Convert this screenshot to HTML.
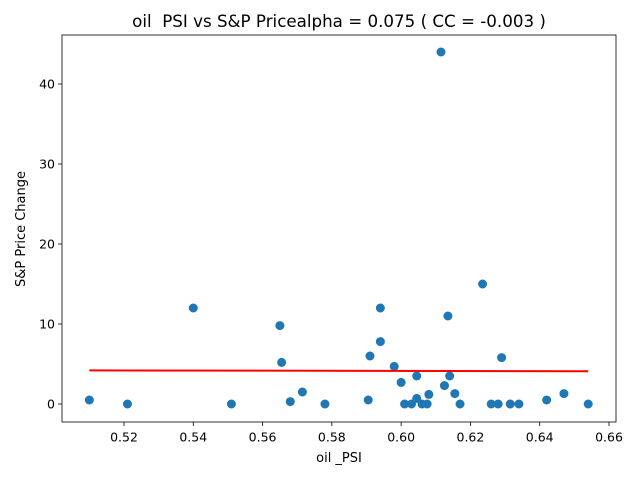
<!DOCTYPE html>
<html><head><meta charset="utf-8"><style>
body{margin:0;background:#fff;font-family:"Liberation Sans",sans-serif}
svg text{font-family:"DejaVu Sans","Liberation Sans",sans-serif;white-space:pre}
</style></head><body>
<svg id="c" width="640" height="480"></svg>
<script>
const xs=[0.510,0.521,0.540,0.551,0.565,0.5655,0.568,0.5715,0.578,0.5905,0.591,0.594,0.594,0.598,0.600,0.601,0.603,0.6045,0.6045,0.606,0.6075,0.608,0.6115,0.6125,0.6135,0.614,0.6155,0.617,0.6235,0.626,0.628,0.629,0.6315,0.634,0.642,0.647,0.654];
const ys=[0.5,0,12,0,9.8,5.2,0.3,1.5,0,0.5,6,12,7.8,4.7,2.7,0,0,3.5,0.7,0,0,1.2,44,2.3,11,3.5,1.3,0,15,0,0,5.8,0,0,0.5,1.3,0];
const xTicks=[0.52,0.54,0.56,0.58,0.60,0.62,0.64,0.66];
const yTicks=[0,10,20,30,40];
const fitX=[0.510,0.654];
const fitY=[4.2,4.1];
const NS="http://www.w3.org/2000/svg",svg=document.getElementById('c');
const L=62,R=616,T=35,B=422;
const X=v=>124+(v-0.52)*(485/0.14);
const Y=v=>404-v*8;
function mk(t,a,p){const e=document.createElementNS(NS,t);for(const k in a)e.setAttribute(k,a[k]);(p||svg).appendChild(e);return e;}
let f=mk('rect',{x:L,y:T,width:R-L,height:B-T,fill:'none',stroke:'#000','stroke-width':0.8});


xTicks.forEach(t=>{const x=X(t);mk('line',{x1:x,x2:x,y1:B,y2:B+4,stroke:'#000','stroke-width':0.8});
const tx=mk('text',{x:x,y:B+19.5,'text-anchor':'middle','font-size':12.5});tx.textContent=t.toFixed(2);

});
yTicks.forEach(t=>{const y=Y(t);mk('line',{x1:L-4,x2:L,y1:y,y2:y,stroke:'#000','stroke-width':0.8});
const tx=mk('text',{x:L-7,y:y+4.5,'text-anchor':'end','font-size':12.5});tx.textContent=t;

});
xs.forEach((v,i)=>{const c=mk('circle',{cx:X(v),cy:Y(ys[i]),r:4.5,fill:'#1f77b4'});

});
const ln=mk('line',{x1:X(fitX[0]),y1:Y(fitY[0]),x2:X(fitX[1]),y2:Y(fitY[1]),stroke:'red','stroke-width':2});


let t=mk('text',{x:339,y:27,'text-anchor':'middle','font-size':16.7});t.textContent='oil  PSI vs S&P Pricealpha = 0.075 ( CC = -0.003 )';


t=mk('text',{x:339,y:462,'text-anchor':'middle','font-size':13});t.textContent='oil _PSI';


t=mk('text',{x:25,y:229,'text-anchor':'middle','font-size':13,transform:'rotate(-90 25 229)'});t.textContent='S&P Price Change';


</script>
</body></html>
